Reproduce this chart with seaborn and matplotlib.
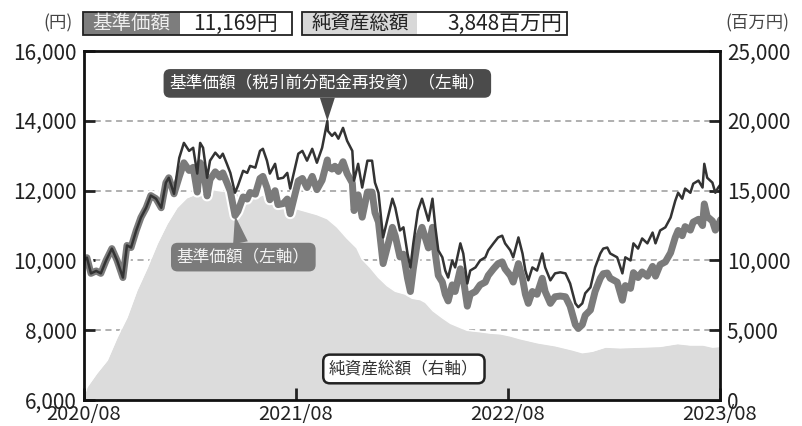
import matplotlib
matplotlib.use('Agg')
import matplotlib.pyplot as plt
import matplotlib.patheffects as pe
from matplotlib.patches import Rectangle
from matplotlib.ticker import FuncFormatter
import seaborn as sns
import pandas as pd

# days since launch (2020/08) for the price series
days = [0, 5, 12, 21, 29, 38, 48, 57, 67, 74,
        81, 90, 98, 107, 115, 124, 133, 141, 146, 155,
        164, 172, 181, 188, 195, 200, 205, 212, 217, 226,
        234, 239, 246, 252, 260, 265, 274, 281, 286, 295,
        303, 308, 315, 320, 329, 334, 343, 350, 355, 364,
        369, 376, 384, 393, 401, 410, 419, 420, 427, 432,
        438, 446, 453, 462, 465, 472, 479, 488, 496, 501,
        507, 515, 522, 531, 536, 544, 550, 557, 562, 567,
        575, 582, 588, 593, 600, 605, 610, 617, 622, 627,
        634, 639, 648, 653, 660, 665, 674, 682, 691, 696,
        705, 713, 720, 725, 734, 739, 748, 755, 760, 765,
        772, 780, 789, 794, 803, 811, 820, 829, 837, 846,
        851, 858, 863, 872, 880, 889, 894, 901, 906, 918,
        927, 932, 941, 946, 954, 961, 970, 979, 984, 992,
        1001, 1010, 1018, 1023, 1030, 1035, 1044, 1049, 1058, 1065,
        1068, 1073, 1082, 1087, 1092, 1096]

# 基準価額（税引前分配金再投資）
reinvest = [10000, 10080, 9630, 9700, 9630, 10000, 10340, 10000, 9510, 10430,
            10370, 10860, 11230, 11510, 11860, 11770, 11510, 12230, 12370, 11910,
            12940, 13370, 13140, 13230, 12490, 13370, 13230, 12370, 12860, 13090,
            12940, 13060, 12770, 12510, 11940, 12140, 12570, 12510, 12710, 12660,
            13140, 13200, 12860, 12490, 12770, 12340, 12370, 12510, 12060, 12710,
            13060, 13140, 12860, 13200, 12800, 13230, 14000, 13710, 13570, 13660,
            13490, 13800, 13430, 13140, 12290, 12770, 12090, 12860, 12860, 12230,
            11940, 10660, 11140, 11770, 11510, 10860, 10950, 10200, 9800, 10490,
            11430, 11770, 11430, 11140, 11770, 10950, 10290, 10090, 9710, 9510,
            10000, 9800, 10490, 10200, 9340, 9710, 9800, 10000, 10090, 10290,
            10490, 10660, 10710, 10490, 10290, 10090, 10660, 10200, 9710, 9430,
            9800, 9710, 10200, 9800, 9430, 9630, 9660, 9630, 9340, 8770,
            8660, 8770, 9060, 9230, 9800, 10200, 10340, 10370, 10200, 10090,
            9630, 10090, 10000, 10490, 10340, 10630, 10490, 10800, 10490, 10860,
            10950, 11230, 11710, 11940, 11770, 12060, 11940, 12200, 12290, 12090,
            12770, 12370, 12230, 11940, 12090, 12180]

# 基準価額
nav = [10000, 10080, 9630, 9700, 9630, 10000, 10340, 10000, 9510, 10430,
       10370, 10860, 11230, 11510, 11860, 11770, 11510, 12230, 12370, 11910,
       12400, 12800, 12580, 12670, 11960, 12800, 12670, 11850, 12320, 12540,
       12390, 12510, 12230, 11980, 11290, 11410, 11820, 11760, 11950, 11900,
       12350, 12410, 12090, 11740, 12000, 11600, 11630, 11760, 11340, 11950,
       12280, 12350, 12090, 12410, 12030, 12300, 12880, 12700, 12620, 12700,
       12550, 12830, 12490, 12220, 11430, 11880, 11240, 11960, 11960, 11370,
       11100, 9910, 10360, 10950, 10700, 10100, 10180, 9490, 9110, 9760,
       10630, 10950, 10630, 10360, 10950, 10180, 9570, 9380, 9030, 8840,
       9300, 9110, 9760, 9490, 8690, 9030, 9110, 9300, 9380, 9570,
       9760, 9910, 9960, 9760, 9570, 9380, 9910, 9490, 9030, 8770,
       9110, 9030, 9490, 9110, 8770, 8960, 8980, 8960, 8690, 8160,
       8050, 8160, 8430, 8580, 9110, 9490, 9620, 9640, 9490, 9380,
       8860, 9280, 9200, 9650, 9510, 9670, 9550, 9830, 9550, 9880,
       9960, 10220, 10660, 10860, 10710, 10970, 10870, 11100, 11180, 11000,
       11620, 11260, 11130, 10870, 11000, 11169]

# 純資産総額（百万円）
na_days = [0, 5, 22, 40, 57, 74, 91, 109, 126, 143,
           160, 177, 195, 217, 234, 257, 277, 295, 315, 333,
           350, 367, 384, 401, 419, 436, 453, 470, 479, 493,
           507, 522, 536, 553, 565, 579, 588, 601, 617, 631,
           648, 660, 682, 700, 717, 734, 751, 782, 811, 841,
           858, 875, 898, 923, 958, 992, 1022, 1044, 1066, 1082, 1096]
net_assets = [300, 930, 1930, 2860, 4500, 5930, 7860, 9500, 11210, 12640,
              13790, 14500, 14800, 15100, 15000, 14900, 14600, 14500, 14800, 14300,
              14000, 13700, 13500, 13300, 13000, 12400, 11600, 10900, 10100, 9500,
              8800, 8200, 7800, 7600, 7300, 7200, 7000, 6400, 5900, 5500,
              5200, 5000, 4900, 4800, 4750, 4600, 4400, 4100, 3900, 3600,
              3400, 3500, 3800, 3750, 3800, 3850, 4050, 3950, 3950, 3800, 3848]

x_ticks = ['2020-08-01', '2021-08-01', '2022-08-01', '2023-08-01']
x_labels = ['2020/08', '2021/08', '2022/08', '2023/08']

start = pd.Timestamp('2020-08-01')
df = pd.DataFrame({'date': start + pd.to_timedelta(days, unit='D'),
                   'reinvest': reinvest, 'nav': nav})
na = pd.DataFrame({'date': start + pd.to_timedelta(na_days, unit='D'),
                   'assets': net_assets})

sns.set_theme(style='white')
plt.rcParams['font.family'] = ['Noto Sans CJK JP', 'DejaVu Sans']

fig = plt.figure(figsize=(8.03, 4.26), dpi=100)
ax = fig.add_axes([0.1046, 0.061, 0.792, 0.819])
ax2 = ax.twinx()
ax.set_zorder(ax2.get_zorder() + 1)
ax.patch.set_visible(False)

# net assets (right axis) behind everything
ax2.fill_between(na['date'], na['assets'], color='#dcdcdc', lw=0)
ax2.plot(na['date'], na['assets'], color='white', lw=1.2)
ax2.set_ylim(0, 25000)
ax2.set_yticks(range(0, 25001, 5000))
ax2.yaxis.set_major_formatter(FuncFormatter(lambda v, p: f'{int(v):,}'))
ax2.yaxis.grid(True, ls=(0, (4, 3)), color='#9a9a9a', lw=1.1)
ax2.set_axisbelow(True)
ax2.tick_params(axis='y', direction='in', length=8, width=2, labelsize=15,
                pad=5, colors='#222222', right=True)
for s in ax2.spines.values():
    s.set_visible(False)

# price lines (left axis)
halo = [pe.Stroke(linewidth=8, foreground='white'), pe.Normal()]
sns.lineplot(data=df, x='date', y='nav', ax=ax, color='#7b7b7b', lw=5,
             solid_joinstyle='round', path_effects=halo)
sns.lineplot(data=df, x='date', y='reinvest', ax=ax, color='#333333', lw=1.8)
ax.set_ylim(6000, 16000)
ax.set_yticks(range(6000, 16001, 2000))
ax.yaxis.set_major_formatter(FuncFormatter(lambda v, p: f'{int(v):,}'))
ax.set_xlim(start, pd.Timestamp(x_ticks[-1]))
ax.set_xticks(pd.to_datetime(x_ticks))
ax.set_xticklabels(x_labels)
ax.set_xlabel('')
ax.set_ylabel('')
ax.tick_params(axis='y', direction='in', length=8, width=2, labelsize=15,
               pad=5, colors='#222222', left=True)
ax.tick_params(axis='x', direction='in', length=9, width=2, labelsize=14.5,
               pad=3, colors='#222222', bottom=True)
for s in ax.spines.values():
    s.set_visible(True)
    s.set_color('#111111')
    s.set_linewidth(2)

# callouts
i_top = reinvest.index(max(reinvest))
ax.annotate('基準価額（税引前分配金再投資）（左軸）',
            xy=(df['date'][i_top], reinvest[i_top]), xytext=(0, 27),
            textcoords='offset points', ha='center', va='center',
            fontsize=12, color='white',
            bbox=dict(boxstyle='round,pad=0.35,rounding_size=0.4',
                      fc='#4b4b4b', ec='none'),
            arrowprops=dict(arrowstyle='wedge,tail_width=0.9', fc='#4b4b4b',
                            ec='none', shrinkA=0, shrinkB=0))
i_low = days.index(260)
ax.annotate('基準価額（左軸）', xy=(df['date'][i_low], nav[i_low]),
            xytext=(6, -30), textcoords='offset points', ha='center',
            va='center', fontsize=12, color='#f2f2f2',
            bbox=dict(boxstyle='round,pad=0.35,rounding_size=0.4',
                      fc='#7b7b7b', ec='none'),
            arrowprops=dict(arrowstyle='wedge,tail_width=0.9', fc='#7b7b7b',
                            ec='none', shrinkA=0, shrinkB=0))
ax.text(0.503, 0.089, '純資産総額（右軸）', transform=ax.transAxes,
        ha='center', va='center', fontsize=12, color='#333333',
        bbox=dict(boxstyle='round,pad=0.35,rounding_size=0.4',
                  fc='white', ec='#222222', lw=1.8))

# header boxes
W, H = 803, 426


def box(x0, x1, color):
    fig.patches.append(Rectangle((x0 / W, 1 - 35 / H), (x1 - x0) / W, 23 / H,
                                 transform=fig.transFigure, fc=color,
                                 ec='none'))


box(83, 180, '#7d7d7d')
box(302, 417, '#d8d8d8')
for x0, x1 in [(83, 292), (302, 567)]:
    fig.patches.append(Rectangle((x0 / W, 1 - 35 / H), (x1 - x0) / W, 23 / H,
                                 transform=fig.transFigure, fc='none',
                                 ec='#222222', lw=1.3))
ty = 1 - 23.5 / H
fig.text(131 / W, ty, '基準価額', color='#eeeeee', fontsize=14,
         ha='center', va='center')
fig.text(236 / W, ty, '11,169円', color='#222222', fontsize=15,
         ha='center', va='center')
fig.text(360 / W, ty, '純資産総額', color='#222222', fontsize=14,
         ha='center', va='center')
fig.text(562 / W, ty, '3,848百万円', color='#222222', fontsize=15,
         ha='right', va='center')
fig.text(58 / W, ty, '(円)', color='#444444', fontsize=12.5,
         ha='center', va='center')
fig.text(757 / W, ty, '(百万円)', color='#444444', fontsize=12.5,
         ha='center', va='center')

fig.savefig('out.png', dpi=100, facecolor='white')
